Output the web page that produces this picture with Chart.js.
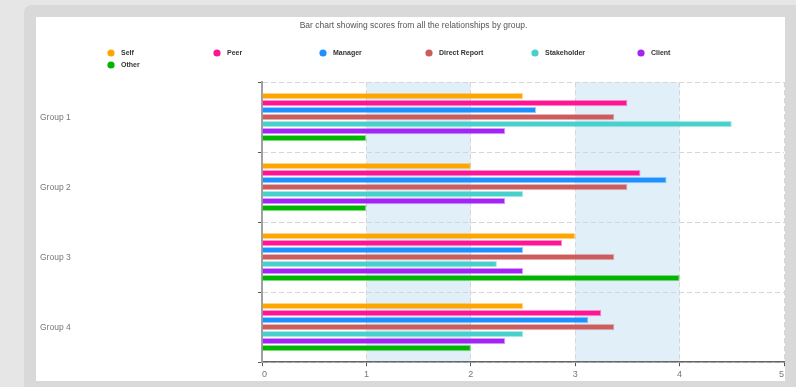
<!DOCTYPE html>
<html>
<head>
<meta charset="utf-8">
<title>Scores by group</title>
<script src="https://cdn.jsdelivr.net/npm/chart.js@4/dist/chart.umd.min.js"></script>
<style>
  html, body {
    margin: 0;
    padding: 0;
    background: #e6e6e6;
    width: 796px;
    height: 387px;
    overflow: hidden;
  }
  .frame {
    position: absolute;
    left: 24px;
    top: 5px;
    width: 800px;
    height: 400px;
    background: #d9d9d9;
    border-radius: 8px;
  }
  .panel {
    position: absolute;
    left: 36px;
    top: 17px;
    width: 749px;
    height: 364px;
    background: #fff;
    overflow: hidden;
  }
</style>
</head>
<body>
<div class="frame"></div>
<div class="panel">
  <canvas id="chart" width="751" height="368"></canvas>
</div>
<script>
const groups = ["Group 1", "Group 2", "Group 3", "Group 4"];
const relationships = ["Self", "Peer", "Manager", "Direct Report", "Stakeholder", "Client", "Other"];

// scores per relationship, one value per group
const selfScores = [2.5, 2, 3, 2.5];
const peerScores = [3.5, 3.625, 2.875, 3.25];
const managerScores = [2.625, 3.875, 2.5, 3.125];
const directReportScores = [3.375, 3.5, 3.375, 3.375];
const stakeholderScores = [4.5, 2.5, 2.25, 2.5];
const clientScores = [2.33, 2.33, 2.5, 2.33];
const otherScores = [1, 1, 4, 2];

const xTicks = [0, 1, 2, 3, 4, 5];
// shaded ranges on the score axis
const bands = [[1, 2], [3, 4]];

const colours = ["#ffa500", "#ff1493", "#1e90ff", "#cd5c5c", "#48d1cc", "#a424f5", "#00b400"];
const seriesScores = [selfScores, peerScores, managerScores, directReportScores,
  stakeholderScores, clientScores, otherScores];

function fade(hex, alpha) {
  const n = parseInt(hex.slice(1), 16);
  return `rgba(${(n >> 16) & 255}, ${(n >> 8) & 255}, ${n & 255}, ${alpha})`;
}

Chart.defaults.font.family = "'Liberation Sans', Arial, sans-serif";
Chart.defaults.color = "#666";

const bandPlugin = {
  id: "bands",
  beforeDraw(chart) {
    const { ctx, chartArea, scales } = chart;
    ctx.save();
    ctx.fillStyle = "#e0eff8";
    bands.forEach(([from, to]) => {
      const x1 = scales.x.getPixelForValue(from);
      const x2 = scales.x.getPixelForValue(to);
      ctx.fillRect(x1, chartArea.top, x2 - x1, chartArea.bottom - chartArea.top);
    });
    ctx.restore();
  },
};

// legend laid out in fixed-width columns
const columnLegend = {
  id: "columnLegend",
  afterDraw(chart) {
    const { ctx } = chart;
    const left = 75;
    const colWidth = 106;
    const top = 36;
    const rowHeight = 12;
    ctx.save();
    ctx.font = "bold 7px 'Liberation Sans', Arial, sans-serif";
    ctx.textBaseline = "middle";
    chart.data.datasets.forEach((ds, i) => {
      const x = left + (i % 6) * colWidth;
      const y = top + Math.floor(i / 6) * rowHeight;
      ctx.fillStyle = ds.backgroundColor;
      ctx.beginPath();
      ctx.arc(x, y, 3.6, 0, Math.PI * 2);
      ctx.fill();
      ctx.fillStyle = "#333";
      ctx.fillText(ds.label, x + 10, y + 0.5);
    });
    ctx.restore();
  },
};

const ctx = document.getElementById("chart").getContext("2d");
new Chart(ctx, {
  type: "bar",
  data: {
    labels: groups,
    datasets: relationships.map((name, i) => ({
      label: name,
      data: seriesScores[i],
      backgroundColor: colours[i],
      borderColor: fade(colours[i], 0.45),
      borderWidth: 1,
      borderSkipped: "left",
      categoryPercentage: 0.7,
      barPercentage: 0.9,
    })),
  },
  options: {
    indexAxis: "y",
    responsive: false,
    animation: false,
    layout: {
      padding: { left: 4, right: 0, top: 0, bottom: 2 },
    },
    scales: {
      x: {
        min: 0,
        max: 5,
        afterBuildTicks(scale) {
          scale.ticks = xTicks.map((v) => ({ value: v }));
        },
        grid: {
          color: "#d6d6d6",
          lineWidth: 1,
          tickColor: "#555",
          tickLength: 4,
        },
        border: {
          color: "#666",
          width: 1.5,
          dash: [5, 3],
        },
        ticks: {
          align: "inner",
          font: { size: 9 },
          color: "#777",
          padding: 3,
        },
      },
      y: {
        afterFit(scale) {
          scale.width = 222;
        },
        grid: {
          offset: true,
          color: "#d6d6d6",
          lineWidth: 1,
          tickColor: "#555",
          tickLength: 4,
        },
        border: {
          color: "#a0a0a0",
          width: 2,
          dash: [5, 3],
        },
        ticks: {
          crossAlign: "far",
          font: { size: 8.5 },
          color: "#777",
        },
      },
    },
    plugins: {
      legend: { display: false },
      tooltip: { enabled: false },
      title: {
        display: true,
        text: "Bar chart showing scores from all the relationships by group.",
        color: "#555",
        font: { size: 8.5, weight: "normal" },
        padding: { top: 4, bottom: 51 },
      },
    },
  },
  plugins: [bandPlugin, columnLegend],
});
</script>
</body>
</html>
